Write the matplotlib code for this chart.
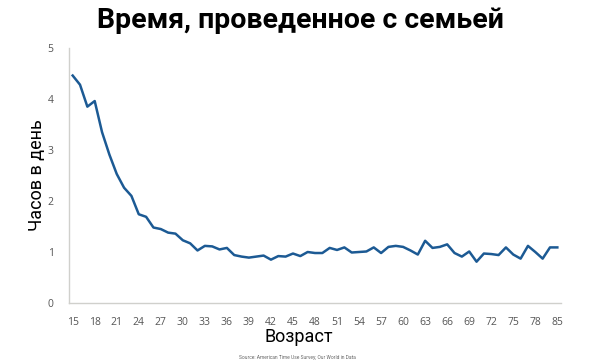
import matplotlib
matplotlib.use("Agg")
import matplotlib.pyplot as plt

# age groups (80 = 80-84, 85 = 85+)
ages = list(range(15, 81)) + [85]
hours = [
    4.46, 4.28, 3.85, 3.96, 3.35, 2.91, 2.53, 2.26, 2.10, 1.74,
    1.69, 1.48, 1.45, 1.38, 1.36, 1.23, 1.17, 1.03, 1.12, 1.11,
    1.05, 1.08, 0.94, 0.91, 0.89, 0.91, 0.93, 0.85, 0.92, 0.91,
    0.97, 0.92, 1.00, 0.98, 0.98, 1.08, 1.04, 1.09, 0.99, 1.00,
    1.01, 1.09, 0.98, 1.10, 1.12, 1.10, 1.03, 0.95, 1.22, 1.08,
    1.10, 1.15, 0.98, 0.91, 1.01, 0.81, 0.97, 0.96, 0.94, 1.09,
    0.95, 0.87, 1.12, 1.00, 0.87, 1.09, 1.09,
]
yticks = [0, 1, 2, 3, 4, 5]

fig = plt.figure(figsize=(5.96, 3.62), dpi=100)
ax = fig.add_axes([69 / 596, 1 - 303 / 362, 492 / 596, 255 / 362])

x = list(range(len(ages)))
ax.plot(x, hours, color="#1c5a94", linewidth=1.8)

ax.set_xlim(-0.5, len(ages) - 0.5)
ax.set_ylim(0, 5)
tick_idx = x[::3]
ax.set_xticks(tick_idx)
ax.set_xticklabels([str(ages[i]) for i in tick_idx])
ax.set_yticks(yticks)

for s in ["top", "right"]:
    ax.spines[s].set_visible(False)
for s in ["left", "bottom"]:
    ax.spines[s].set_color("#d0d0cc")
    ax.spines[s].set_linewidth(1.0)

ax.tick_params(axis="both", length=0, labelsize=7.5, labelcolor="#555555")
ax.tick_params(axis="x", pad=10)
ax.tick_params(axis="y", pad=11)
for lab in ax.get_xticklabels() + ax.get_yticklabels():
    lab.set_family("Open Sans")

# axis titles are centred on the figure, not on the plot area
fig.text(299 / 596, 1 - 337 / 362, "Возраст", ha="center", va="center",
         fontsize=13, family="Roboto")
fig.text(37 / 596, 1 - 175 / 362, "Часов в день", ha="center", va="center",
         rotation=90, fontsize=13, family="Roboto")

fig.text(300 / 596, 1 - 21 / 362, "Время, проведенное с семьей", ha="center",
         va="center", fontsize=20.5, fontweight="bold", family="Roboto")
fig.text(297 / 596, 1 - 357 / 362, "Source: American Time Use Survey; Our World in Data",
         ha="center", va="center", fontsize=3.5, color="#666666", family="Roboto")

fig.savefig("out.png", dpi=100, facecolor="white")
